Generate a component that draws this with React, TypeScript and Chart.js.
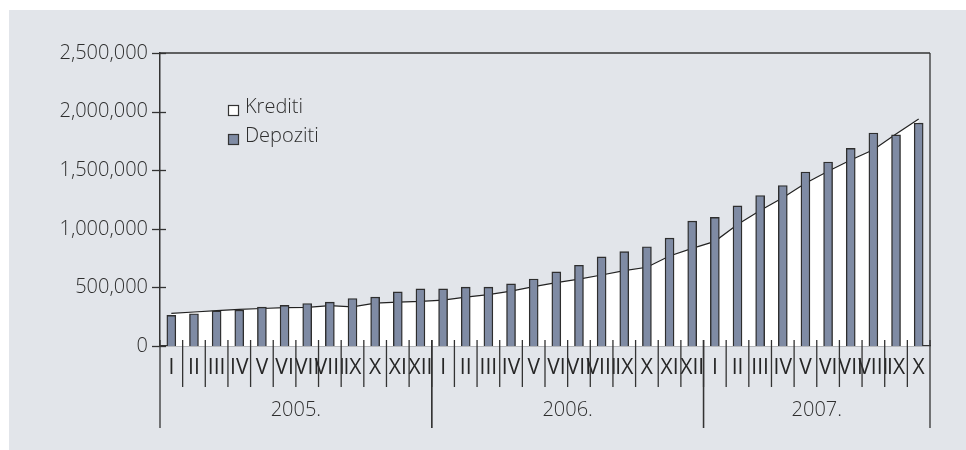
import { useEffect, useRef } from "react";
import { Chart, registerables } from "chart.js";

Chart.register(...registerables);

// Month numerals per year and the year captions under them
const monthNames = ["I", "II", "III", "IV", "V", "VI", "VII", "VIII", "IX", "X", "XI", "XII"];
const years = ["2005.", "2006.", "2007."];
const monthsPerYear = [12, 12, 10];
const categories = [...monthNames, ...monthNames, ...monthNames.slice(0, 10)];

// Krediti (line with white area) and Depoziti (bars)
const krediti = [
  278000, 290000, 301000, 312000, 320000, 327000, 330000, 344000, 334000, 365000, 374000, 380000,
  392000, 417000, 439000, 468000, 507000, 541000, 570000, 606000, 643000, 672000, 768000, 833000,
  893000, 1037000, 1156000, 1264000, 1389000, 1491000, 1587000, 1675000, 1808000, 1936000,
];
const depoziti = [
  261000, 275000, 300000, 306000, 332000, 346000, 363000, 374000, 405000, 417000, 462000, 487000,
  487000, 502000, 502000, 530000, 572000, 632000, 689000, 760000, 805000, 847000, 921000, 1066000,
  1097000, 1196000, 1284000, 1369000, 1485000, 1570000, 1686000, 1817000, 1802000, 1902000,
];

const yMax = 2500000;
const yStep = 500000;

const INK = "#333333";
const TEXT = "#2e2e2e";
const MONTH_TEXT = "#262626";
const BAR = "#7f8ba4";
const FONT = '"Open Sans", "DejaVu Sans", sans-serif';

const decorations = {
  id: "decorations",
  afterDraw(chart: any) {
    const { ctx, chartArea: a, scales } = chart;
    const x = scales.x;
    const y = scales.y;
    const n = categories.length;
    const step = x.getPixelForTick(1) - x.getPixelForTick(0);
    const edge = (i: number) => (i === 0 ? a.left : i === n ? a.right : x.getPixelForTick(i) - step / 2);
    const seg = (x1: number, y1: number, x2: number, y2: number) => {
      ctx.beginPath();
      ctx.moveTo(x1, y1);
      ctx.lineTo(x2, y2);
      ctx.stroke();
    };

    ctx.save();
    ctx.strokeStyle = INK;
    ctx.lineWidth = 1.3;

    // frame: top and right edges of the plot
    seg(a.left, a.top, a.right, a.top);
    seg(a.right, a.top, a.right, a.bottom);

    // value ticks crossing the vertical axis
    y.ticks.forEach((t: any) => {
      const py = Math.round(y.getPixelForValue(t.value)) + 0.5;
      seg(a.left - 8, py, a.left + 6, py);
    });

    // month separators
    for (let i = 1; i < n; i++) {
      const px = edge(i);
      seg(px, a.bottom - 6, px, a.bottom + 41);
    }

    // year separators and captions
    let start = 0;
    ctx.fillStyle = TEXT;
    ctx.font = `300 20px ${FONT}`;
    ctx.textAlign = "center";
    ctx.textBaseline = "middle";
    years.forEach((label, k) => {
      const end = start + monthsPerYear[k];
      const x0 = edge(start);
      const x1 = edge(end);
      seg(x0, a.bottom - 6, x0, a.bottom + 82);
      seg(x1, a.bottom - 6, x1, a.bottom + 82);
      ctx.fillText(label, (x0 + x1) / 2, a.bottom + 64);
      start = end;
    });

    // legend inside the plot
    const ds = chart.data.datasets;
    const rows = [
      { label: ds[0].label, fill: "#ffffff", y: 107 },
      { label: ds[1].label, fill: BAR, y: 136 },
    ];
    ctx.textAlign = "left";
    rows.forEach((r) => {
      ctx.fillStyle = r.fill;
      ctx.fillRect(228.5, r.y - 1.5, 10, 10);
      ctx.lineWidth = 1.2;
      ctx.strokeStyle = INK;
      ctx.strokeRect(228.5, r.y - 1.5, 10, 10);
      ctx.fillStyle = TEXT;
      ctx.fillText(r.label, 245, r.y);
    });

    ctx.restore();
  },
};

export default function App() {
  const ref = useRef<HTMLCanvasElement | null>(null);

  useEffect(() => {
    if (!ref.current) return;
    const chart = new Chart(ref.current, {
      type: "bar",
      data: {
        labels: categories,
        datasets: [
          {
            type: "line",
            label: "Krediti",
            data: krediti,
            borderColor: "#222222",
            borderWidth: 1.2,
            backgroundColor: "#ffffff",
            fill: "origin",
            pointRadius: 0,
            tension: 0,
            order: 2,
          },
          {
            type: "bar",
            label: "Depoziti",
            data: depoziti,
            backgroundColor: BAR,
            borderColor: "#2e2e2e",
            borderWidth: 1.4,
            barThickness: 9,
            order: 1,
          },
        ],
      } as any,
      options: {
        responsive: false,
        animation: false,
        layout: { padding: { top: 53, right: 36, left: 0, bottom: 0 } },
        plugins: { legend: { display: false }, tooltip: { enabled: false } },
        scales: {
          x: {
            type: "category",
            offset: true,
            grid: { display: false, drawTicks: false },
            border: { display: true, color: INK, width: 1.3 },
            ticks: {
              autoSkip: false,
              maxRotation: 0,
              minRotation: 0,
              padding: 9,
              color: MONTH_TEXT,
              font: { family: FONT, size: 21, weight: "400" as any },
            },
            afterFit: (s: any) => {
              s.height = 104;
            },
          },
          y: {
            min: 0,
            max: yMax,
            grid: { display: false, drawTicks: true, tickLength: 8 },
            border: { display: true, color: INK, width: 1.5 },
            ticks: {
              stepSize: yStep,
              padding: 4,
              color: TEXT,
              font: { family: FONT, size: 20, weight: "300" as any },
              callback: (v: any) => Number(v).toLocaleString("en-US"),
            },
            afterFit: (s: any) => {
              s.width = 160;
            },
          },
        },
      },
      plugins: [decorations],
    });
    return () => chart.destroy();
  }, []);

  return (
    <div style={{ position: "absolute", left: 0, top: 0, width: 966, height: 450, background: "#ffffff" }}>
      <div style={{ position: "absolute", left: 9, top: 10, right: 0, bottom: 0, background: "#e2e5ea" }} />
      <canvas ref={ref} width={966} height={450} style={{ position: "absolute", left: 0, top: 0 }} />
    </div>
  );
}
